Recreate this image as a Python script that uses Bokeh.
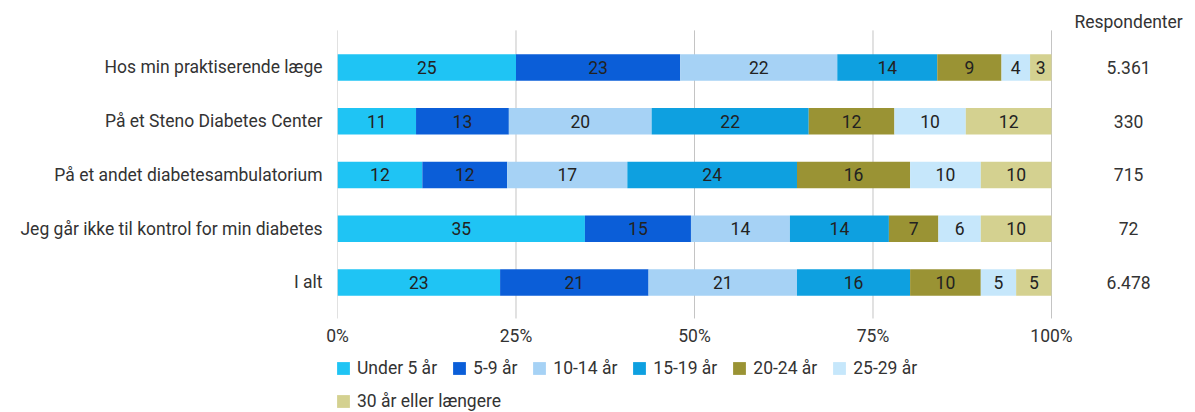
from bokeh.plotting import figure
from bokeh.layouts import column
from bokeh.models import (ColumnDataSource, Range1d, FixedTicker, Legend, LegendItem)
from bokeh.core.properties import value
from bokeh.embed import file_html
from bokeh.resources import INLINE

categories = ["Hos min praktiserende læge", "På et Steno Diabetes Center",
              "På et andet diabetesambulatorium",
              "Jeg går ikke til kontrol for min diabetes", "I alt"]
groups = ["Under 5 år", "5-9 år", "10-14 år", "15-19 år", "20-24 år", "25-29 år",
          "30 år eller længere"]
under5 = [25, 11, 12, 35, 23]
y5_9 = [23, 13, 12, 15, 21]
y10_14 = [22, 20, 17, 14, 21]
y15_19 = [14, 22, 24, 14, 16]
y20_24 = [9, 12, 16, 7, 10]
y25_29 = [4, 10, 10, 6, 5]
y30plus = [3, 12, 10, 10, 5]
respondents = ["5.361", "330", "715", "72", "6.478"]
tick_values = [0, 25, 50, 75, 100]
tick_labels = ["0%", "25%", "50%", "75%", "100%"]

colors = ["#1fc4f4", "#0b5ed8", "#a6d2f5", "#0ea0e0", "#9a9334", "#c6e7fb", "#d4d190"]
series = [under5, y5_9, y10_14, y15_19, y20_24, y25_29, y30plus]
keys = ["s%d" % i for i in range(len(series))]

rows = list(range(len(categories)))
totals = [sum(s[r] for s in series) for r in rows]

data = {"y": rows}
for k, s in zip(keys, series):
    data[k] = [s[r] / totals[r] * 100 for r in rows]
source = ColumnDataSource(data)

FONT = "Roboto"
FS = "17.5px"
p = figure(width=1195, height=350, output_backend="svg", toolbar_location=None,
           x_range=Range1d(0, 120.17), y_range=Range1d(4.726, -1.06),
           min_border_left=337, min_border_right=0, min_border_top=10,
           min_border_bottom=29)
p.outline_line_color = None
p.grid.visible = False
p.background_fill_color = "white"

# vertical grid lines at ticks
p.segment(x0=tick_values, x1=tick_values, y0=[-0.69] * 5, y1=[4.67] * 5,
          line_color="#c4c4c4", line_width=1)

renderers = p.hbar_stack(keys, y="y", height=0.49, color=colors, source=source,
                         line_color=None)

# bar labels
lx, ly, lt = [], [], []
for r in rows:
    cum = 0
    for k, s in zip(keys, series):
        w = data[k][r]
        lx.append(cum + w / 2)
        ly.append(r)
        lt.append(str(s[r]))
        cum += w
p.text(x=lx, y=ly, text=lt, text_align="center", text_baseline="middle",
       text_font=value(FONT), text_font_size=FS, text_color="#222222")

# respondents column
p.text(x=[110.8] * len(rows), y=rows, text=respondents, text_align="center",
       text_baseline="middle", text_font=value(FONT), text_font_size=FS,
       text_color="#333333")
p.text(x=[110.8], y=[-0.84], text=["Respondenter"], text_align="center",
       text_baseline="middle", text_font=value(FONT), text_font_size=FS,
       text_color="#333333")

# axes
p.xaxis.ticker = FixedTicker(ticks=tick_values)
p.xaxis.major_label_overrides = {v: l for v, l in zip(tick_values, tick_labels)}
p.yaxis.ticker = FixedTicker(ticks=rows)
p.yaxis.major_label_overrides = {r: c for r, c in zip(rows, categories)}
for ax in (p.xaxis, p.yaxis):
    ax.axis_line_color = None
    ax.major_tick_line_color = None
    ax.minor_tick_line_color = None
    ax.major_tick_out = 0
    ax.minor_tick_out = 0
    ax.major_label_text_font = FONT
    ax.major_label_text_font_size = FS
    ax.major_label_text_color = "#333333"
p.xaxis.major_label_standoff = 4
p.yaxis.major_label_standoff = 15

# legend figure below the chart (its swatches use the same colours, drawn out of view)
p2 = figure(width=1195, height=62, output_backend="svg", toolbar_location=None,
            x_range=Range1d(0, 100), y_range=Range1d(0, 10),
            min_border=0, min_border_left=0, min_border_right=0,
            min_border_top=0, min_border_bottom=0)
p2.axis.visible = False
p2.grid.visible = False
p2.outline_line_color = None
leg_renderers = [p2.hbar(y=[-50], left=[-50], right=[-40], height=1, color=c,
                         line_color=None) for c in colors]

items1 = [LegendItem(label=g, renderers=[r]) for g, r in zip(groups[:6], leg_renderers[:6])]
items2 = [LegendItem(label=groups[6], renderers=[leg_renderers[6]])]
for items, vy in ((items1, 34), (items2, 1)):
    lg = Legend(items=items, orientation="horizontal", location=(-2, vy))
    lg.glyph_width = 16
    lg.glyph_height = 16
    lg.label_height = 20
    lg.label_standoff = 6
    lg.spacing = 14
    lg.padding = 0
    lg.margin = 0
    lg.border_line_color = None
    lg.background_fill_alpha = 0
    lg.label_text_font = FONT
    lg.label_text_font_size = FS
    lg.label_text_color = "#333333"
    p2.add_layout(lg, "center")

layout = column(p, p2, spacing=0)
open("out.html", "w").write(file_html(layout, INLINE))
